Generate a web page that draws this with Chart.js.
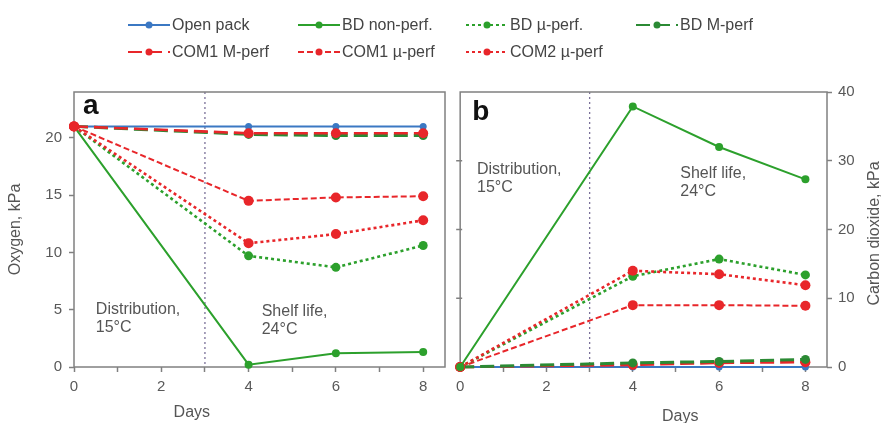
<!DOCTYPE html>
<html>
<head>
<meta charset="utf-8">
<script src="https://cdn.jsdelivr.net/npm/chart.js@4"></script>
<style>
    body { margin: 0; width: 887px; height: 423px; background: #fff; position: relative; overflow: hidden;
           font-family: "Liberation Sans", Arial, sans-serif; }
    .panel { position: absolute; top: 0; height: 423px; }
    #panelA { left: 0; width: 450px; }
    #panelB { left: 450px; width: 437px; }
    .item { position: absolute; display: flex; align-items: center; height: 20px; font-size: 16px; color: #444; white-space: nowrap; }
    .item svg { margin-right: 2px; }
</style>
</head>
<body>
<canvas id="panelA" class="panel" width="450" height="423"></canvas>
<canvas id="panelB" class="panel" width="437" height="423"></canvas>
<div id="legend"></div>
<script>
// sampling days
const days = [0, 4, 6, 8];

// oxygen, kPa (panel a)
const o2OpenPack   = [21, 21, 21, 21];
const o2BdNonPerf  = [21, 0.2, 1.2, 1.3];
const o2BdMicro    = [21, 9.7, 8.7, 10.6];
const o2BdMacro    = [21, 20.3, 20.2, 20.2];
const o2Com1Macro  = [21, 20.4, 20.4, 20.4];
const o2Com1Micro  = [21, 14.5, 14.8, 14.9];
const o2Com2Micro  = [21, 10.8, 11.6, 12.8];

// carbon dioxide, kPa (panel b)
const co2OpenPack  = [0, 0, 0, 0];
const co2BdNonPerf = [0, 37.9, 32.0, 27.3];
const co2BdMicro   = [0, 13.2, 15.7, 13.4];
const co2BdMacro   = [0, 0.6, 0.8, 1.1];
const co2Com1Macro = [0, 0.3, 0.6, 0.7];
const co2Com1Micro = [0, 9.0, 9.0, 8.9];
const co2Com2Micro = [0, 14.0, 13.5, 11.9];

const seriesNames = ['Open pack', 'BD non-perf.', 'BD µ-perf.', 'BD M-perf', 'COM1 M-perf', 'COM1 µ-perf', 'COM2 µ-perf'];
const xTicks = [0, 1, 2, 3, 4, 5, 6, 7, 8];   // odd days get a mark but no label
const o2Ticks = [0, 5, 10, 15, 20];
const co2Ticks = [0, 10, 20, 30, 40];
const phaseSplit = 3;

// styles
const FONT = '"Liberation Sans", Arial, sans-serif';
const seriesColors = ['#3b78c3', '#2ca02c', '#2ca02c', '#2b8a34', '#e8262a', '#e8262a', '#e8262a'];
const seriesDash   = [[], [], [3, 3], [14, 6], [14, 6], [6, 3], [3, 3]];
const seriesWidth  = [2, 2, 2.6, 3, 2.6, 2, 2.6];
const seriesRadius = [3.5, 4, 4.5, 4.5, 5, 5, 5];
const legendSlots  = [[128, 25], [298, 25], [466, 25], [636, 25], [128, 52], [298, 52], [466, 52]];

Chart.defaults.font.family = FONT;
Chart.defaults.color = '#595959';

function makeSets(series, order) {
    return series.map((vals, i) => ({
        label: seriesNames[i],
        data: days.map((d, j) => ({ x: d, y: vals[j] })),
        borderColor: seriesColors[i],
        backgroundColor: seriesColors[i],
        borderWidth: seriesWidth[i],
        borderDash: seriesDash[i],
        pointRadius: seriesRadius[i],
        pointBorderWidth: 0,
        tension: 0,
        clip: false,
        order: order[i]
    }));
}

function setTicks(list) {
    return scale => { scale.ticks = list.map(v => ({ value: v })); };
}

function panelDecor(cfg) {
    return {
        id: 'panelDecor' + cfg.letter,
        beforeDatasetsDraw(chart) {
            const { ctx, chartArea: a } = chart;
            const x = chart.scales.x, y = chart.scales.y;
            ctx.save();
            // phase boundary
            ctx.strokeStyle = '#7b7199';
            ctx.lineWidth = 1.3;
            ctx.setLineDash([2, 3]);
            const xm = x.getPixelForValue(phaseSplit);
            ctx.beginPath(); ctx.moveTo(xm, a.top); ctx.lineTo(xm, a.bottom); ctx.stroke();
            ctx.setLineDash([]);
            // frame
            ctx.strokeStyle = '#808080';
            ctx.lineWidth = 1.5;
            ctx.strokeRect(a.left, a.top, a.right - a.left, a.bottom - a.top);
            if (cfg.leftTicks) {
                cfg.leftTicks.forEach(v => {
                    const py = y.getPixelForValue(v);
                    ctx.beginPath(); ctx.moveTo(a.left - 4, py); ctx.lineTo(a.left + 2, py); ctx.stroke();
                });
            }
            // notes
            ctx.fillStyle = '#555';
            ctx.font = '16px ' + FONT;
            ctx.textAlign = 'left';
            ctx.textBaseline = 'middle';
            cfg.notes.forEach(n => {
                const px = x.getPixelForValue(n.x), py = y.getPixelForValue(n.y);
                n.lines.forEach((t, i) => ctx.fillText(t, px, py + i * 18));
            });
            // x title
            ctx.textAlign = 'center';
            ctx.fillText('Days', x.getPixelForValue(cfg.daysAt), cfg.daysY);
            // right title
            if (cfg.rightTitle) {
                ctx.save();
                ctx.translate(chart.width - 12, (a.top + a.bottom) / 2 + 4);
                ctx.rotate(-Math.PI / 2);
                ctx.fillText(cfg.rightTitle, 0, 0);
                ctx.restore();
            }
            // panel letter
            ctx.fillStyle = '#111';
            ctx.font = 'bold 28px ' + FONT;
            ctx.textAlign = 'left';
            ctx.textBaseline = 'alphabetic';
            ctx.fillText(cfg.letter, a.left + cfg.letterDx, a.top + cfg.letterDy);
            ctx.restore();
        }
    };
}

const xScale = {
    type: 'linear', min: 0, max: 8.5,
    ticks: { autoSkip: false, maxRotation: 0, padding: 6, font: { size: 15 },
             callback: v => (v % 2 === 0 ? v : '') },
    grid: { drawOnChartArea: false, tickLength: 5, tickColor: '#808080', tickWidth: 1.5 },
    border: { display: false },
    afterBuildTicks: setTicks(xTicks),
    afterFit: scale => { scale.height = 56; }
};

new Chart(document.getElementById('panelA'), {
    type: 'line',
    data: { datasets: makeSets([o2OpenPack, o2BdNonPerf, o2BdMicro, o2BdMacro, o2Com1Macro, o2Com1Micro, o2Com2Micro], [2, 1, 1, 1, 0, 0, 0]) },
    options: {
        responsive: false, animation: false,
        layout: { padding: { top: 92, right: 5, left: 0, bottom: 0 } },
        plugins: { legend: { display: false }, tooltip: { enabled: false } },
        scales: {
            x: xScale,
            y: {
                min: 0, max: 24,
                ticks: { padding: 7, font: { size: 15 } },
                grid: { drawOnChartArea: false, tickLength: 5, tickColor: '#808080', tickWidth: 1.5 },
                border: { display: false },
                title: { display: true, text: 'Oxygen, kPa', font: { size: 16 }, color: '#555', padding: { top: 6 } },
                afterBuildTicks: setTicks(o2Ticks),
                afterFit: scale => { scale.width = 74; }
            }
        }
    },
    plugins: [panelDecor({
        letter: 'a', letterDx: 9, letterDy: 22, daysAt: 2.7, daysY: 413,
        notes: [{ x: 0.5, y: 5.0, lines: ['Distribution,', '15°C'] }, { x: 4.3, y: 4.8, lines: ['Shelf life,', '24°C'] }]
    })]
});

new Chart(document.getElementById('panelB'), {
    type: 'line',
    data: { datasets: makeSets([co2OpenPack, co2BdNonPerf, co2BdMicro, co2BdMacro, co2Com1Macro, co2Com1Micro, co2Com2Micro], [2, 0, 1, 1, 1, 1, 0]) },
    options: {
        responsive: false, animation: false,
        layout: { padding: { top: 92, right: 0, left: 5, bottom: 0 } },
        plugins: { legend: { display: false }, tooltip: { enabled: false } },
        scales: {
            x: xScale,
            y: {
                position: 'right', min: 0, max: 40,
                ticks: { padding: 6, font: { size: 15 } },
                grid: { drawOnChartArea: false, tickLength: 5, tickColor: '#808080', tickWidth: 1.5 },
                border: { display: false },
                afterBuildTicks: setTicks(co2Ticks),
                afterFit: scale => { scale.width = 60; }
            }
        }
    },
    plugins: [panelDecor({
        letter: 'b', letterDx: 12, letterDy: 28, daysAt: 5.1, daysY: 417,
        rightTitle: 'Carbon dioxide, kPa', leftTicks: [10, 20, 30],
        notes: [{ x: 0.39, y: 28.7, lines: ['Distribution,', '15°C'] }, { x: 5.1, y: 28.2, lines: ['Shelf life,', '24°C'] }]
    })]
});

// shared legend
const legend = document.getElementById('legend');
seriesNames.forEach((name, i) => {
    const [lx, ly] = legendSlots[i];
    const item = document.createElement('div');
    item.className = 'item';
    item.style.left = lx + 'px';
    item.style.top = (ly - 10) + 'px';
    const c = seriesColors[i];
    item.innerHTML = `<svg width="42" height="12"><line x1="0" y1="6" x2="42" y2="6" stroke="${c}" stroke-width="${Math.min(seriesWidth[i], 2.2)}" stroke-dasharray="${seriesDash[i].join(' ')}"/><circle cx="21" cy="6" r="3.5" fill="${c}"/></svg><span></span>`;
    item.querySelector('span').textContent = name;
    legend.appendChild(item);
});
</script>
</body>
</html>
